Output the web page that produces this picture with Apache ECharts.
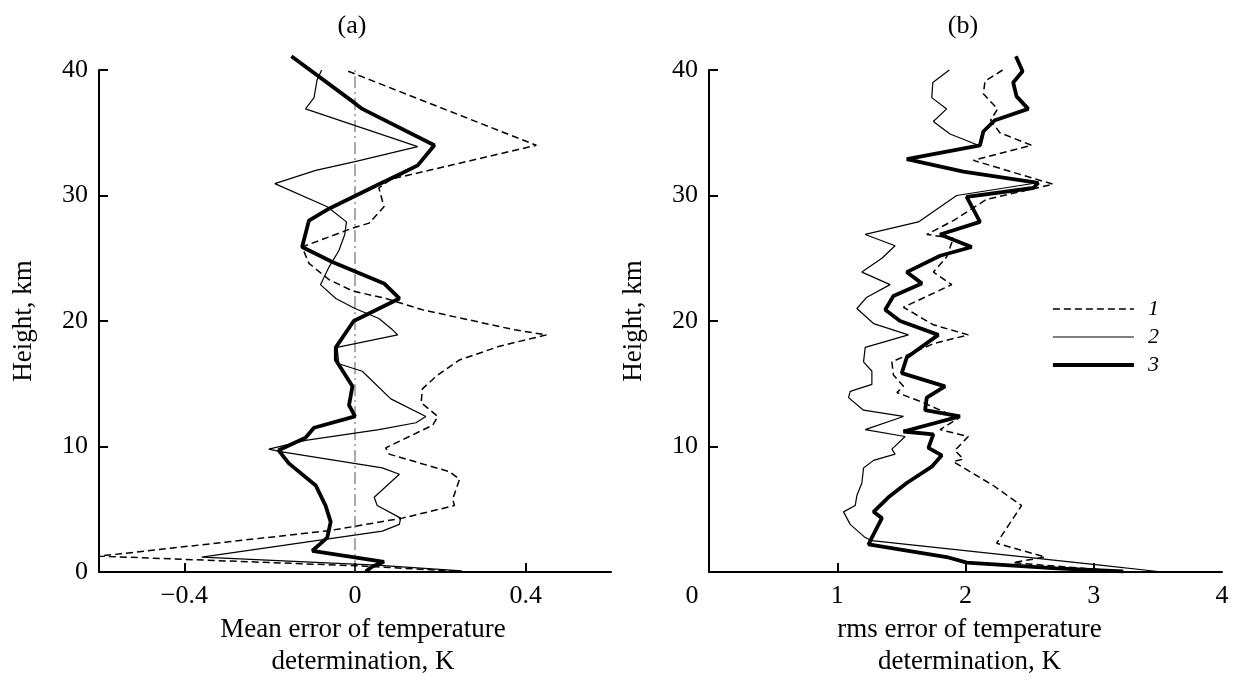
<!DOCTYPE html>
<html>
<head>
<meta charset="utf-8">
<script src="https://cdn.jsdelivr.net/npm/echarts@6/dist/echarts.min.js"></script>
<style>
  html, body { margin: 0; padding: 0; background: #fff; }
  #chart { width: 1241px; height: 683px; }
</style>
</head>
<body>
<div id="chart"></div>
<script>
// Profiles: [error value, height km]
// (a) mean error of temperature determination, K
const meanErr1 = [
  [-0.016, 39.9], [0.425, 34.0], [0.084, 31.3], [0.056, 30.6], [0.068, 29.1], [0.033, 27.8],
  [-0.006, 27.4], [-0.124, 25.9], [-0.108, 24.6], [-0.061, 23.3], [-0.006, 22.4], [0.072, 21.8],
  [0.158, 20.9], [0.374, 19.3], [0.449, 18.9], [0.339, 18.0], [0.245, 16.9], [0.19, 15.6],
  [0.158, 14.6], [0.155, 13.5], [0.194, 12.4], [0.182, 11.7], [0.127, 10.8], [0.072, 9.9],
  [0.08, 9.4], [0.221, 8.0], [0.245, 7.4], [0.229, 5.8], [0.233, 5.3], [0.111, 4.3],
  [0.0, 3.65], [-0.061, 3.3], [-0.6, 1.27], [-0.348, 0.95], [0.013, 0.49], [0.25, 0.05]
];
const meanErr2 = [
  [-0.078, 40.0], [-0.089, 39.2], [-0.096, 37.8], [-0.116, 36.9], [0.147, 33.9], [0.0, 32.7],
  [-0.092, 32.0], [-0.188, 30.95], [-0.065, 29.1], [-0.02, 27.9], [-0.024, 26.9], [-0.038, 25.6],
  [-0.061, 24.3], [-0.081, 22.9], [-0.045, 21.8], [0.0, 21.0], [0.056, 20.2], [0.088, 19.3],
  [0.1, 18.9], [-0.042, 17.9], [-0.038, 16.6], [0.017, 16.0], [0.084, 13.8], [0.166, 12.4],
  [0.143, 11.9], [0.056, 11.35], [-0.116, 10.5], [-0.202, 9.8], [-0.175, 9.6], [0.064, 8.3],
  [0.104, 7.8], [0.045, 5.96], [0.052, 5.3], [0.107, 4.3], [0.104, 3.8], [0.064, 3.26],
  [-0.359, 1.2], [0.049, 0.56], [0.25, 0.1]
];
const meanErr3 = [
  [-0.149, 41.1], [-0.002, 37.4], [0.017, 36.9], [0.186, 34.0], [0.147, 32.4], [0.111, 31.8],
  [0.056, 30.9], [-0.061, 28.95], [-0.108, 28.0], [-0.124, 25.9], [-0.053, 24.7], [0.068, 23.0],
  [0.104, 21.8], [-0.003, 20.0], [-0.045, 17.9], [-0.045, 16.9], [-0.006, 14.8], [-0.014, 13.3],
  [0.0, 12.4], [-0.096, 11.5], [-0.116, 10.7], [-0.179, 9.7], [-0.155, 8.66], [-0.092, 6.9],
  [-0.069, 5.3], [-0.057, 4.0], [-0.065, 2.75], [-0.1, 1.7], [0.068, 0.82], [0.041, 0.44],
  [0.025, 0.05]
];
const zeroLine = [[0, 0], [0, 40]];

// (b) rms error of temperature determination, K
const rmsErr1 = [
  [2.289, 40.0], [2.152, 39.1], [2.139, 38.1], [2.25, 36.9], [2.196, 36.0], [2.268, 35.0],
  [2.515, 34.0], [2.061, 32.8], [2.683, 30.9], [2.165, 29.7], [1.905, 28.0], [1.698, 26.9],
  [1.905, 26.6], [1.853, 25.1], [1.75, 23.9], [1.893, 22.9], [1.516, 21.1], [1.75, 19.7],
  [2.022, 18.9], [1.75, 18.2], [1.426, 16.75], [1.438, 15.7], [1.516, 14.8], [1.465, 14.3],
  [1.672, 13.5], [1.944, 12.25], [1.802, 11.35], [2.022, 10.8], [1.918, 9.7], [1.983, 9.0],
  [1.905, 8.8], [2.216, 6.9], [2.437, 5.3], [2.243, 2.3], [2.62, 1.2], [2.37, 0.75],
  [3.1, 0.15]
];
const rmsErr2 = [
  [1.874, 40.0], [1.745, 39.0], [1.737, 37.8], [1.853, 36.9], [1.749, 35.9], [1.879, 34.9],
  [2.1, 34.0], [1.56, 32.9], [2.0, 31.9], [2.55, 31.0], [1.931, 30.0], [1.633, 27.9],
  [1.218, 26.9], [1.451, 26.0], [1.348, 25.0], [1.192, 23.9], [1.412, 22.9], [1.231, 21.9],
  [1.153, 21.0], [1.283, 19.8], [1.555, 18.9], [1.218, 17.9], [1.205, 16.75], [1.27, 16.0],
  [1.27, 14.95], [1.101, 14.4], [1.088, 13.9], [1.205, 12.9], [1.516, 12.4], [1.218, 11.35],
  [1.529, 10.8], [1.426, 9.8], [1.451, 9.4], [1.283, 8.9], [1.205, 8.3], [1.192, 7.1],
  [1.153, 6.1], [1.14, 5.3], [1.049, 4.8], [1.101, 3.8], [1.218, 2.75], [1.27, 2.5],
  [3.05, 0.56], [3.5, 0.05]
];
const rmsErr3 = [
  [2.393, 41.1], [2.445, 39.9], [2.372, 39.0], [2.398, 37.9], [2.489, 36.9], [2.23, 36.0],
  [2.139, 35.1], [2.113, 34.0], [1.542, 32.9], [1.983, 31.9], [2.567, 31.0], [2.528, 30.6],
  [2.009, 29.9], [2.113, 27.9], [1.802, 26.9], [2.048, 25.9], [1.802, 25.2], [1.542, 23.9],
  [1.659, 23.0], [1.438, 22.0], [1.374, 20.9], [1.49, 20.0], [1.788, 18.9], [1.542, 17.1],
  [1.503, 15.85], [1.84, 14.8], [1.698, 13.9], [1.685, 12.9], [1.957, 12.4], [1.516, 11.2],
  [1.749, 10.97], [1.711, 9.9], [1.815, 9.3], [1.737, 8.4], [1.542, 7.1], [1.399, 5.96],
  [1.283, 4.8], [1.348, 4.3], [1.27, 2.75], [1.244, 2.2], [1.853, 1.2], [2.01, 0.75],
  [2.71, 0.3], [3.23, 0.05]
];

const meanTicks = [-0.4, 0, 0.4];
const rmsTicks = [1, 2, 3];
const legendNames = ['1', '2', '3'];

const FONT = 'Liberation Serif';
const BLACK = '#000';
const TICK_SIZE = 26;
const NAME_SIZE = 27;

const styles = [
  { width: 1.5, type: [7, 4] },
  { width: 1.2, type: 'solid' },
  { width: 3.8, type: 'solid' }
];

const yAxisBase = (gridIndex, showMin) => ({
  type: 'value',
  gridIndex,
  min: 0,
  max: 40,
  interval: 10,
  name: 'Height, km',
  nameLocation: 'middle',
  nameGap: 62,
  nameTextStyle: { fontFamily: FONT, fontSize: NAME_SIZE, color: BLACK },
  axisLine: { show: true, onZero: false, lineStyle: { color: BLACK, width: 2 } },
  axisTick: { show: true, inside: true, length: 9, lineStyle: { color: BLACK, width: 2 } },
  axisLabel: { fontFamily: FONT, fontSize: TICK_SIZE, color: BLACK, margin: 11, showMinLabel: showMin },
  splitLine: { show: false }
});

const xName = (shift) => ({
  fontFamily: FONT, fontSize: NAME_SIZE, color: BLACK, lineHeight: 32, padding: [0, 0, 0, shift]
});

const makeLine = (name, data, idx, style) => ({
  name,
  type: 'line',
  xAxisIndex: idx,
  yAxisIndex: idx,
  data,
  symbol: 'none',
  clip: false,
  lineStyle: { color: BLACK, width: style.width, type: style.type },
  itemStyle: { color: BLACK },
  emphasis: { disabled: true }
});

const chart = echarts.init(document.getElementById('chart'));

chart.setOption({
  backgroundColor: '#fff',
  animation: false,
  title: [
    { text: '(a)', left: 347, top: 8, textAlign: 'center',
      textStyle: { fontFamily: FONT, fontSize: TICK_SIZE, fontWeight: 'normal', color: BLACK } },
    { text: '(b)', left: 958, top: 8, textAlign: 'center',
      textStyle: { fontFamily: FONT, fontSize: TICK_SIZE, fontWeight: 'normal', color: BLACK } }
  ],
  legend: {
    data: legendNames,
    orient: 'vertical',
    left: 1046,
    top: 293,
    itemWidth: 81,
    itemHeight: 20,
    itemGap: 6,
    itemStyle: { opacity: 0 },
    lineStyle: { width: 'inherit' },
    textStyle: {
      fontFamily: FONT, fontSize: 22, lineHeight: 20, fontStyle: 'italic', color: BLACK,
      padding: [0, 0, 0, 9]
    },
    selectedMode: false
  },
  grid: [
    { left: 99, top: 70, width: 512, height: 519 },
    { left: 709, top: 70, width: 513, height: 519 }
  ],
  xAxis: [
    {
      type: 'value',
      gridIndex: 0,
      min: -0.6,
      max: 0.6,
      interval: 0.2,
      name: 'Mean error of temperature\ndetermination, K',
      nameLocation: 'middle',
      nameGap: 18,
      nameTextStyle: xName(16),
      axisLine: { show: true, onZero: false, lineStyle: { color: BLACK, width: 2 } },
      axisTick: { show: true, inside: true, length: 9, customValues: meanTicks, lineStyle: { color: BLACK, width: 2 } },
      axisLabel: {
        fontFamily: FONT, fontSize: TICK_SIZE, color: BLACK, margin: 11,
        customValues: meanTicks,
        formatter: (v) => (v < 0 ? '\u2212' + Math.abs(v) : String(v))
      },
      splitLine: { show: false }
    },
    {
      type: 'value',
      gridIndex: 1,
      min: 0,
      max: 4,
      interval: 1,
      name: 'rms error of temperature\ndetermination, K',
      nameLocation: 'middle',
      nameGap: 18,
      nameTextStyle: xName(8),
      axisLine: { show: true, onZero: false, lineStyle: { color: BLACK, width: 2 } },
      axisTick: { show: true, inside: true, length: 9, customValues: rmsTicks, lineStyle: { color: BLACK, width: 2 } },
      axisLabel: {
        fontFamily: FONT, fontSize: TICK_SIZE, color: BLACK, margin: 11,
        formatter: (v) => (v === 0 ? '{z|0}' : String(v)),
        rich: { z: { fontFamily: FONT, fontSize: TICK_SIZE, color: BLACK, padding: [0, 34, 0, 0] } }
      },
      splitLine: { show: false }
    }
  ],
  yAxis: [yAxisBase(0, true), yAxisBase(1, false)],
  series: [
    {
      type: 'line',
      xAxisIndex: 0,
      yAxisIndex: 0,
      data: zeroLine,
      symbol: 'none',
      silent: true,
      lineStyle: { color: '#555', width: 1, type: [12, 4, 2, 4] }
    },
    makeLine('1', meanErr1, 0, styles[0]),
    makeLine('2', meanErr2, 0, styles[1]),
    makeLine('3', meanErr3, 0, styles[2]),
    makeLine('1', rmsErr1, 1, styles[0]),
    makeLine('2', rmsErr2, 1, styles[1]),
    makeLine('3', rmsErr3, 1, styles[2])
  ]
});
</script>
</body>
</html>
